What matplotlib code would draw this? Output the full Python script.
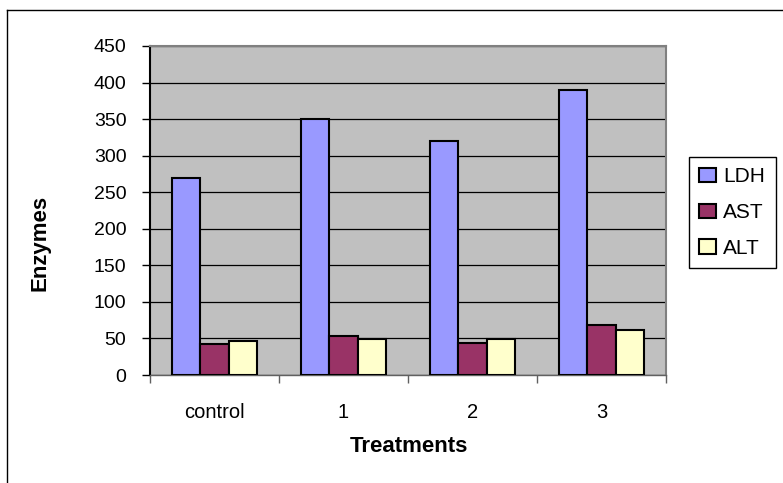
import matplotlib
matplotlib.use("Agg")
import matplotlib.pyplot as plt
import numpy as np
from matplotlib.lines import Line2D

plt.rcParams['font.family'] = ['Liberation Sans', 'DejaVu Sans']

categories = ["control", "1", "2", "3"]
series_names = ["LDH", "AST", "ALT"]
ldh = [270, 350, 320, 390]
ast = [42, 54, 44, 68]
alt = [47, 49, 49, 61]
colors = ["#9999FF", "#993366", "#FFFFCC"]
y_ticks = [0, 50, 100, 150, 200, 250, 300, 350, 400, 450]

W, H = 783, 483
fig = plt.figure(figsize=(W / 100, H / 100), dpi=100)
ax = fig.add_axes([150 / W, 1 - 375 / H, (666 - 150) / W, (375 - 46) / H])
ax.set_facecolor("#C0C0C0")

x = np.arange(len(categories))
bw = 0.222
for i, (vals, name, c) in enumerate(zip([ldh, ast, alt], series_names, colors)):
    ax.bar(x + (i - 1) * bw, vals, width=bw, color=c, edgecolor="black",
           linewidth=1.5, label=name, zorder=3)

ax.set_xlim(-0.5, len(categories) - 0.5)
ax.set_ylim(0, 450)
ax.set_yticks(y_ticks)
ax.set_yticklabels([str(v) for v in y_ticks], fontsize=14)
ax.yaxis.grid(True, color="black", linewidth=0.9, zorder=1)
ax.set_axisbelow(True)

# category boundaries as major ticks, labels on minor ticks
ax.set_xticks(np.arange(-0.5, len(categories) + 0.5, 1.0))
ax.set_xticklabels([])
ax.set_xticks(x, minor=True)
ax.set_xticklabels(categories, minor=True, fontsize=14.5)
ax.tick_params(axis="x", which="major", length=6, width=1, color="#606060", direction="out")
ax.tick_params(axis="x", which="minor", length=0, pad=20)
ax.tick_params(axis="y", length=6, width=1, color="black", direction="out", pad=11)

for s in ["top", "right"]:
    ax.spines[s].set_color("#808080")
    ax.spines[s].set_linewidth(1.5)
ax.spines["left"].set_color("black")
ax.spines["left"].set_linewidth(1.5)
ax.spines["bottom"].set_color("#606060")
ax.spines["bottom"].set_linewidth(1)

ax.set_ylabel("Enzymes", fontsize=16, fontweight="bold")
ax.yaxis.set_label_coords((51 - 150) / (666 - 150), (375 - 243) / (375 - 46))
ax.set_xlabel("Treatments", fontsize=16, fontweight="bold")
ax.xaxis.set_label_coords((409 - 150) / (666 - 150), -(446 - 375) / (375 - 46))
ax.xaxis.label.set_verticalalignment("center")

leg = fig.legend(loc="upper left", bbox_to_anchor=(689 / W, 1 - 157 / H),
                 borderaxespad=0, fontsize=15, frameon=True, fancybox=False,
                 edgecolor="black", framealpha=1, handlelength=0.8,
                 handleheight=0.7, handletextpad=0.35, labelspacing=0.8,
                 borderpad=0.5)
leg.get_frame().set_linewidth(1)

# outer chart border (only top/left edges are inside the image)
fig.add_artist(Line2D([7 / W, 7 / W], [0, 1 - 10 / H], transform=fig.transFigure,
                      color="black", linewidth=1))
fig.add_artist(Line2D([7 / W, 1.0], [1 - 10 / H, 1 - 10 / H], transform=fig.transFigure,
                      color="black", linewidth=1))

fig.savefig("out.png", dpi=100)
